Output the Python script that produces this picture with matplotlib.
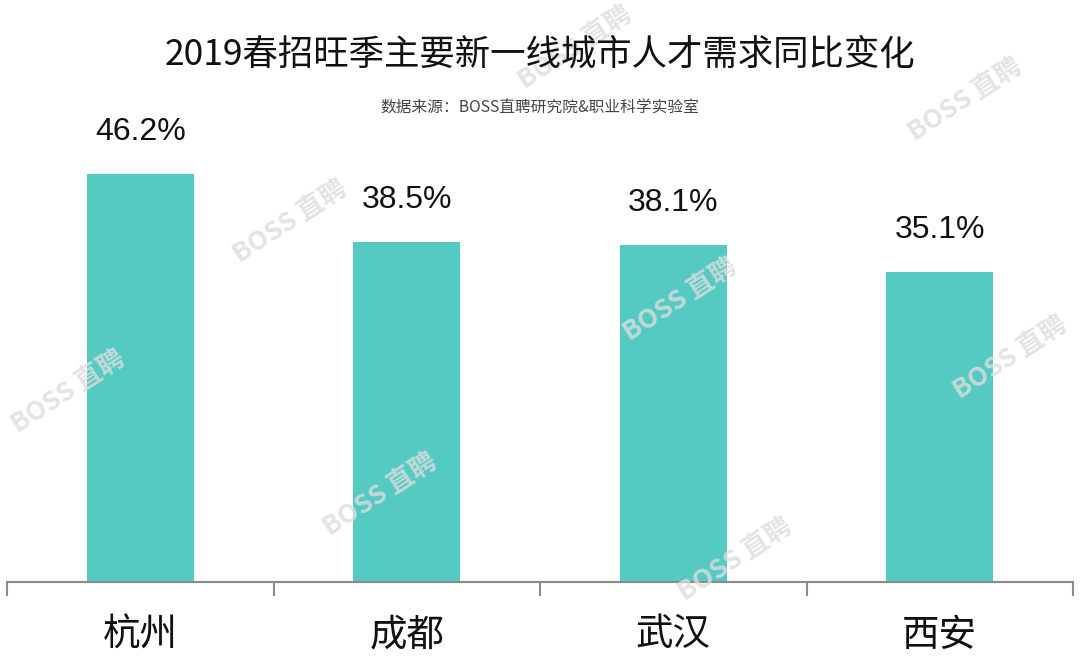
import matplotlib
matplotlib.use("Agg")
import matplotlib.pyplot as plt
import numpy as np

plt.rcParams['font.family'] = ['Noto Sans CJK SC', 'DejaVu Sans']

# 数据
cities = ["杭州", "成都", "武汉", "西安"]
growth = [46.2, 38.5, 38.1, 35.1]
title = "2019春招旺季主要新一线城市人才需求同比变化"
source = "数据来源：BOSS直聘研究院&职业科学实验室"
watermark = "BOSS 直聘"
# 水印位置 (figure 坐标, 像素)
wm_x = [575, 965, 290, 680, 1010, 68, 380, 735]
wm_y = [48, 100, 222, 300, 358, 392, 495, 560]

fig = plt.figure(figsize=(10.8, 6.67), dpi=100)
ax = fig.add_axes([7 / 1080, 85 / 667, 1066 / 1080, 530 / 667])

x = np.arange(len(cities))
ax.bar(x, growth, width=0.4, color="#55CAC3", zorder=2)

for xi, v in zip(x, growth):
    ax.text(xi, v + 4.8, f"{v}%", ha="center", va="center", fontsize=23,
            family=["Liberation Sans", "DejaVu Sans"], color="#111111")

ax.set_xlim(-0.5, len(cities) - 0.5)
ax.set_ylim(0, 60)

# 坐标轴样式
for s in ["top", "right", "left"]:
    ax.spines[s].set_visible(False)
ax.spines["bottom"].set_color("#8a8a8a")
ax.spines["bottom"].set_linewidth(1.5)
ax.set_yticks([])
ax.set_xticks(np.arange(-0.5, len(cities)), minor=False)
ax.set_xticklabels([])
ax.tick_params(axis="x", direction="out", length=10, width=1.5, color="#8a8a8a")
for xi, c in zip(x, cities):
    ax.text(xi, -0.1, c, transform=ax.get_xaxis_transform(), ha="center",
            va="center", fontsize=27, color="#111111")

fig.text(0.5, 1 - 55 / 667, title, ha="center", va="center", fontsize=25.5, color="#111111")
fig.text(0.5, 1 - 108 / 667, source, ha="center", va="center", fontsize=11.3, color="#444444")

# 水印
for wx, wy in zip(wm_x, wm_y):
    fig.text(wx / 1080, 1 - wy / 667, watermark, ha="center", va="center", fontsize=19,
             fontweight="bold", rotation=33, color="#dddddd", alpha=0.8, zorder=0)

fig.savefig("out.png", dpi=100, facecolor="white")
